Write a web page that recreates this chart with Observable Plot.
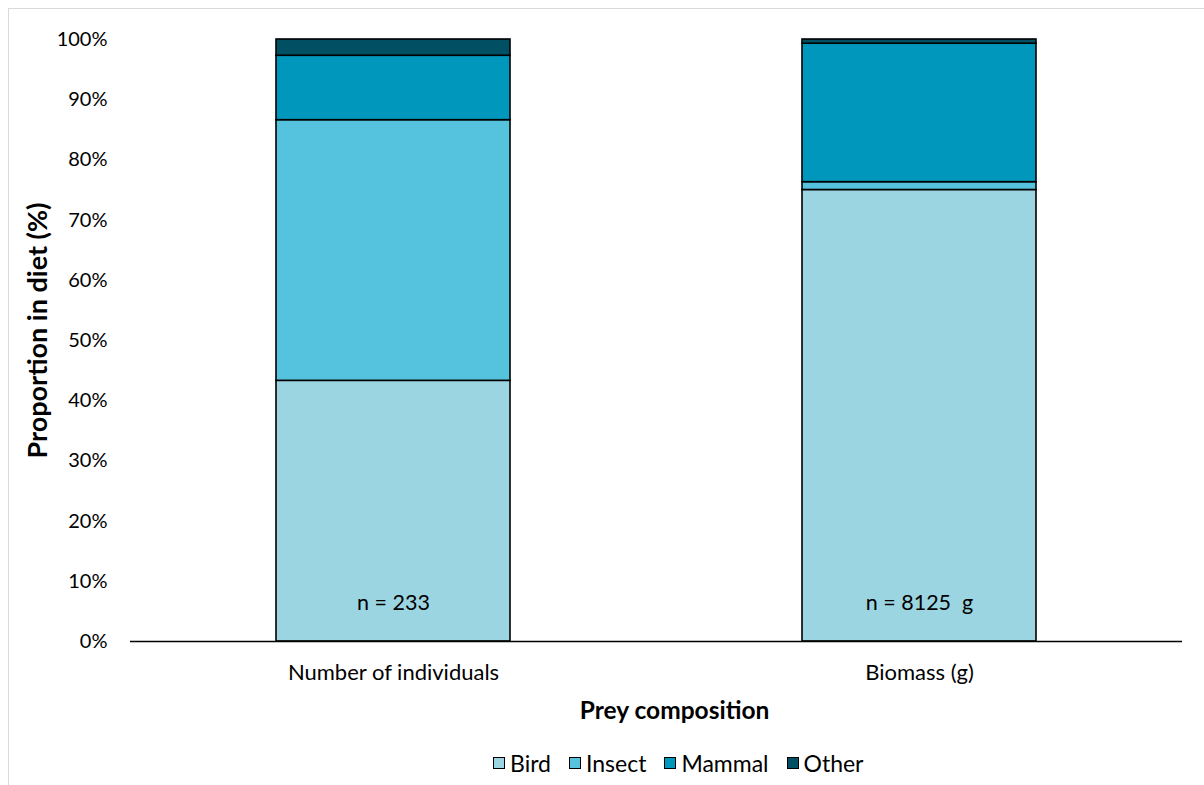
<!DOCTYPE html>
<html>
<head>
<meta charset="utf-8">
<script src="https://cdn.jsdelivr.net/npm/d3@7"></script>
<script src="https://cdn.jsdelivr.net/npm/@observablehq/plot@0.6"></script>
<style>
  html, body { margin: 0; padding: 0; background: #fff; overflow: hidden; }
  body { width: 1204px; height: 785px; position: relative; font-family: Lato, "Open Sans", sans-serif; }
  #frame { position: absolute; left: 8px; top: 8px; width: 1300px; height: 900px; border: 1.5px solid #d9d9d9; box-sizing: border-box; pointer-events: none; }
  #chart svg { display: block; }
  #legend { position: absolute; left: 493px; top: 748px; height: 30px; display: flex; align-items: center; font-size: 23px; color: #000; white-space: nowrap; }
  .item { display: flex; align-items: center; margin-right: 18px; }
  .sw { width: 10px; height: 10px; border: 1px solid #000; margin-right: 5px; }
</style>
</head>
<body>
<div id="frame"></div>
<div id="chart"></div>
<div id="legend"></div>
<script>
const categories = ["Number of individuals", "Biomass (g)"];
const preyTypes = ["Bird", "Insect", "Mammal", "Other"];
const individuals = [43.3, 43.3, 10.7, 2.7];
const biomass = [75.0, 1.3, 23.0, 0.7];
const nLabels = ["n = 233", "n = 8125  g"];
const yTicks = [0, 10, 20, 30, 40, 50, 60, 70, 80, 90, 100];
const colors = ["#9bd5e1", "#55c3de", "#0097bc", "#004f63"];

const seriesByCategory = [individuals, biomass];
const rows = [];
categories.forEach((c, i) => {
  preyTypes.forEach((p, j) => rows.push({category: c, prey: p, value: seriesByCategory[i][j]}));
});
const labelRows = categories.map((c, i) => ({category: c, label: nLabels[i]}));

const fontFamily = "Lato, 'Open Sans', sans-serif";

const chart = Plot.plot({
  width: 1204,
  height: 748,
  marginLeft: 130,
  marginRight: 22,
  marginTop: 39,
  marginBottom: 107,
  style: {fontFamily, fontSize: "20px", color: "#000", background: "transparent"},
  x: {domain: categories, paddingInner: 0.555, paddingOuter: 0.2775, label: null, tickSize: 0, tickPadding: 23, tickFormat: d => d},
  y: {domain: [0, 100], ticks: yTicks, tickFormat: d => d + "%", label: null, tickSize: 0, tickPadding: 23},
  color: {domain: preyTypes, range: colors},
  marks: [
    Plot.barY(rows, Plot.stackY({x: "category", y: "value", fill: "prey", order: preyTypes, stroke: "#000", strokeWidth: 1.6})),
    Plot.ruleY([0], {stroke: "#000", strokeWidth: 1.5}),
    Plot.axisX({tickSize: 0, tickPadding: 23, fontSize: 22, label: null}),
    Plot.text(labelRows, {x: "category", text: "label", frameAnchor: "bottom", dy: -38, lineAnchor: "middle", fontSize: 21.5, fill: "#000"}),
    Plot.text(["Proportion in diet (%)"], {frameAnchor: "left", dx: -92, dy: -10, rotate: -90, textAnchor: "middle", lineAnchor: "middle", fontWeight: "bold", fontSize: 27, fill: "#000"}),
    Plot.text(["Prey composition"], {frameAnchor: "bottom", dx: 18, dy: 70, lineAnchor: "middle", fontWeight: "bold", fontSize: 24.5, fill: "#000"})
  ]
});
document.getElementById("chart").appendChild(chart);

const legend = document.getElementById("legend");
preyTypes.forEach((p, i) => {
  const item = document.createElement("div");
  item.className = "item";
  const sw = document.createElement("div");
  sw.className = "sw";
  sw.style.background = colors[i];
  const t = document.createElement("span");
  t.textContent = p;
  item.appendChild(sw);
  item.appendChild(t);
  legend.appendChild(item);
});
</script>
</body>
</html>
